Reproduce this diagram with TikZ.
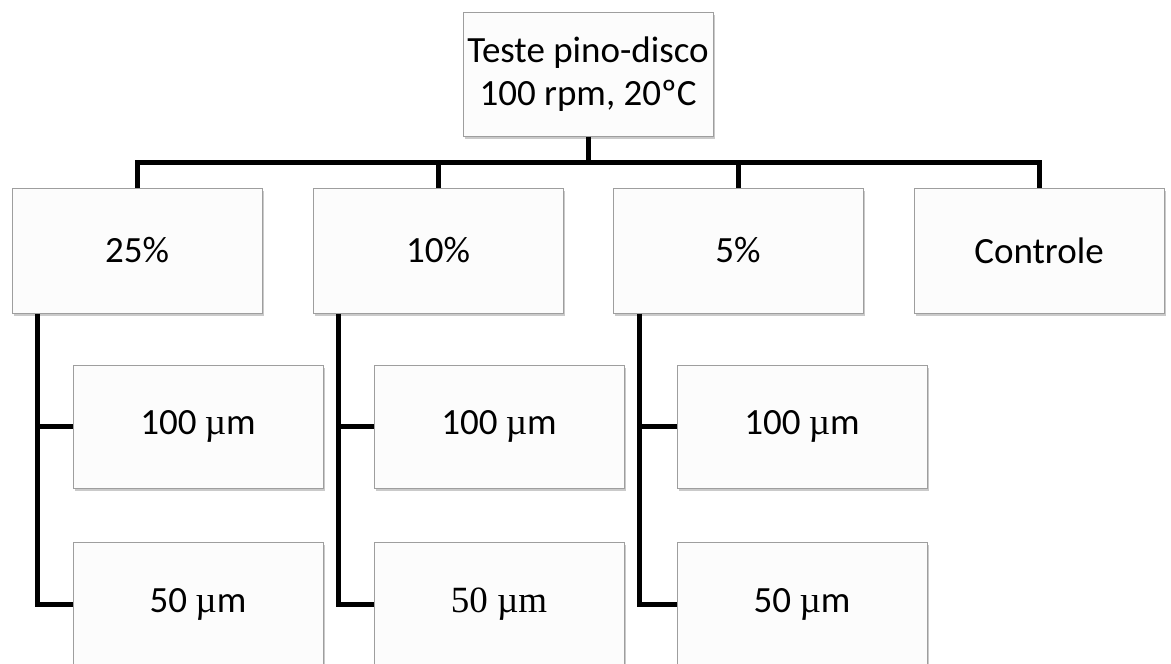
\documentclass[tikz,border=0pt]{standalone}
\usepackage{fontspec}
\setmainfont{Carlito}
\newfontfamily\tnr{Liberation Serif}
\usetikzlibrary{shadows,calc}
\begin{document}
\begin{tikzpicture}[x=1pt,y=-1pt,
  box/.style={draw=black!38, line width=1pt, fill=white!99!black, minimum width=250pt, minimum height=124pt,
    inner sep=0pt, align=center, font=\fontsize{37}{43}\selectfont,
    drop shadow={shadow xshift=1.5pt, shadow yshift=-3pt, opacity=0.35, fill=black!60}},
  conn/.style={line width=5pt, black}]
\useasboundingbox (0,0) rectangle (1171,664);
\node[box] (top) at (588,74) {Teste pino-disco\\100 rpm, 20ºC};
\node[box, minimum height=125pt] (p25) at (137,250.5) {25\%};
\node[box, minimum height=125pt] (p10) at (438,250.5) {10\%};
\node[box, minimum height=125pt] (p5) at (738,250.5) {5\%};
\node[box, minimum height=125pt] (pc) at (1039,250.5) {Controle};
\node[box, minimum height=123pt] (a100) at (198,426.5) {100 {\tnr µ}m};
\node[box, minimum height=123pt] (b100) at (499,426.5) {100 {\tnr µ}m};
\node[box, minimum height=123pt] (c100) at (802,426.5) {100 {\tnr µ}m};
\node[box] (a50) at (198,604) {50 {\tnr µ}m};
\node[box] (b50) at (499,604) {{\tnr 50 µm}};
\node[box] (c50) at (802,604) {50 {\tnr µ}m};
\coordinate (bar) at (0,162);
\draw[conn] (top.south) -- (top.south |- bar);
\draw[conn] (p25.north) -- (p25.north |- bar) -- (pc.north |- bar) -- (pc.north);
\draw[conn] (p10.north) -- (p10.north |- bar);
\draw[conn] (p5.north) -- (p5.north |- bar);
\coordinate (va) at ($(p25.south west)+(26,0)$);
\coordinate (vb) at ($(p10.south west)+(26,0)$);
\coordinate (vc) at ($(p5.south west)+(27,0)$);
\draw[conn, line join=miter] (va) |- (a50.west);
\draw[conn] (va |- a100.west) -- (a100.west);
\draw[conn, line join=miter] (vb) |- (b50.west);
\draw[conn] (vb |- b100.west) -- (b100.west);
\draw[conn, line join=miter] (vc) |- (c50.west);
\draw[conn] (vc |- c100.west) -- (c100.west);
\end{tikzpicture}
\end{document}
